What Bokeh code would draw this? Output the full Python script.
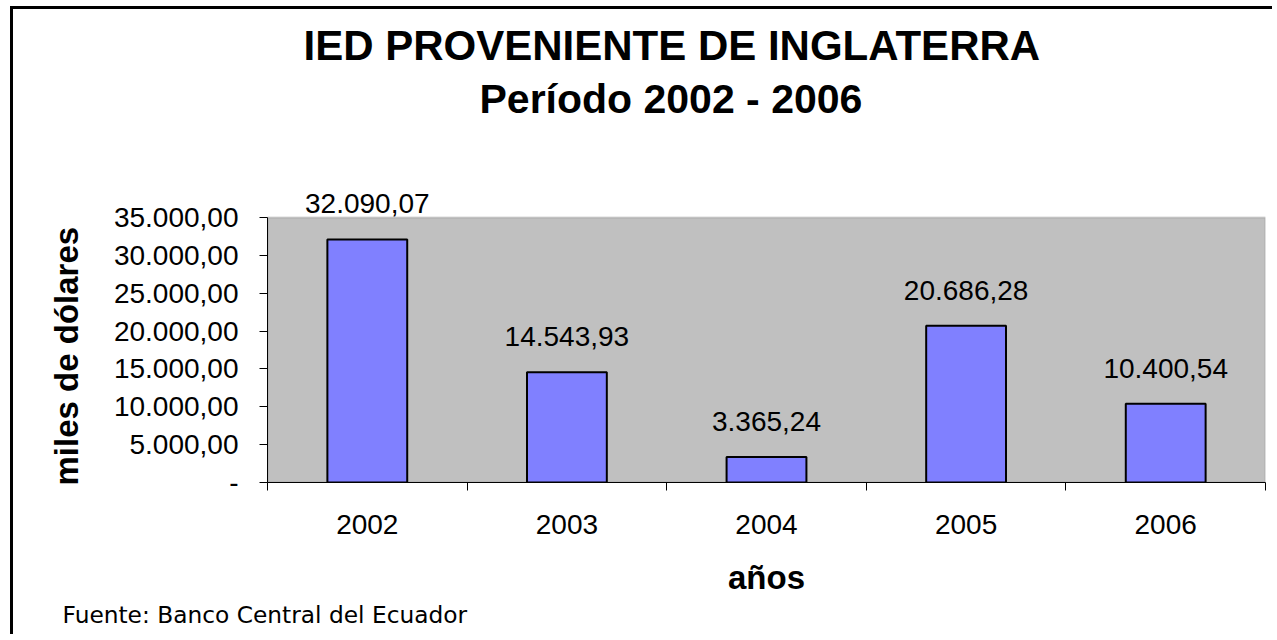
from bokeh.plotting import figure
from bokeh.models import (ColumnDataSource, Range1d, FixedTicker, LabelSet, Title,
                          BoxAnnotation)
from bokeh.core.properties import value
from bokeh.embed import file_html
from bokeh.resources import INLINE

# ---- data ----
years = ["2002", "2003", "2004", "2005", "2006"]
values = [32090.07, 14543.93, 3365.24, 20686.28, 10400.54]
value_labels = ["32.090,07", "14.543,93", "3.365,24", "20.686,28", "10.400,54"]
y_ticks = [0, 5000, 10000, 15000, 20000, 25000, 30000, 35000]
y_tick_labels = ["-", "5.000,00", "10.000,00", "15.000,00", "20.000,00",
                 "25.000,00", "30.000,00", "35.000,00"]
y_max = 35000
title_line1 = "IED PROVENIENTE DE INGLATERRA"
title_line2 = "Período 2002 - 2006"
x_title = "años"
y_title = "miles de dólares"
source_note = "Fuente: Banco Central del Ecuador"

FONT = "Liberation Sans"
W, H = 1272, 634

centers = [i + 0.5 for i in range(len(years))]
src = ColumnDataSource(dict(x=centers, top=values, label=value_labels))

p = figure(width=W, height=H, x_range=Range1d(0, len(years)), y_range=Range1d(0, 40000),
           output_backend="svg", toolbar_location=None,
           min_border_left=267, min_border_right=W - 1265, min_border_top=179,
           min_border_bottom=H - 482,
           background_fill_color=None, border_fill_color=None)
p.styles = {
    "background": ("linear-gradient(#000,#000) 10px 6px / 3px 100% no-repeat, "
                   "linear-gradient(#000,#000) 10px 6px / 100% 3px no-repeat, #fff"),
}
p.grid.visible = False
p.outline_line_color = None

# grey plot area
p.add_layout(BoxAnnotation(left=0, right=len(years), bottom=0, top=y_max,
                           fill_color="#C0C0C0", fill_alpha=1,
                           line_color="#808080", line_width=2, level="underlay"))

p.vbar(x="x", top="top", width=0.4, bottom=0, source=src,
       fill_color="#8080FF", line_color="black", line_width=2)

labels = LabelSet(x="x", y="top", text="label", source=src, y_offset=26,
                  text_align="center", text_baseline="alphabetic",
                  text_font=value(FONT), text_font_size="28px", text_color="black")
p.add_layout(labels)

# x axis
xa = p.xaxis[0]
xa.ticker = FixedTicker(ticks=centers, minor_ticks=list(range(len(years) + 1)))
xa.major_label_overrides = {c: y for c, y in zip(centers, years)}
xa.major_tick_out = 0
xa.major_tick_in = 0
xa.minor_tick_out = 8
xa.minor_tick_in = 0
xa.minor_tick_line_color = "black"
xa.axis_line_color = "black"
xa.major_label_text_font = FONT
xa.major_label_text_font_size = "28px"
xa.major_label_text_color = "black"
xa.major_label_standoff = 24
xa.axis_label = x_title
xa.axis_label_text_font = FONT
xa.axis_label_text_font_size = "33px"
xa.axis_label_text_font_style = "bold"
xa.axis_label_text_color = "black"
xa.axis_label_standoff = 22

# y axis
ya = p.yaxis[0]
ya.ticker = FixedTicker(ticks=y_ticks, minor_ticks=[])
ya.bounds = (0, y_max)
ya.major_label_overrides = {t: l for t, l in zip(y_ticks, y_tick_labels)}
ya.major_tick_out = 8
ya.major_tick_in = 0
ya.major_tick_line_color = "black"
ya.axis_line_color = "black"
ya.major_label_text_font = FONT
ya.major_label_text_font_size = "28px"
ya.major_label_text_color = "black"
ya.major_label_standoff = 21

# y axis title, placed along the 0..35000 extent of the axis
p.add_layout(Title(text=y_title, align="left", offset=-3, vertical_align="bottom",
                   standoff=52, text_font=FONT, text_font_size="33px",
                   text_font_style="bold", text_color="black"), "left")

# titles (first added sits closest to the plot)
p.add_layout(Title(text=" ", standoff=54, text_font=FONT, text_font_size="2px"), "above")
p.add_layout(Title(text=title_line2, align="left", offset=212, standoff=0,
                   text_font=FONT, text_font_size="41px", text_font_style="bold",
                   text_color="black"), "above")
p.add_layout(Title(text=title_line1, align="left", offset=36, standoff=10,
                   text_font=FONT, text_font_size="42px", text_font_style="bold",
                   text_color="black"), "above")
# source note
p.add_layout(Title(text=source_note, align="left", offset=62 - 267, standoff=0,
                   text_font="DejaVu Sans", text_font_size="23.3px", text_font_style="normal",
                   text_color="black"), "below")

open("out.html", "w").write(file_html(p, INLINE))
